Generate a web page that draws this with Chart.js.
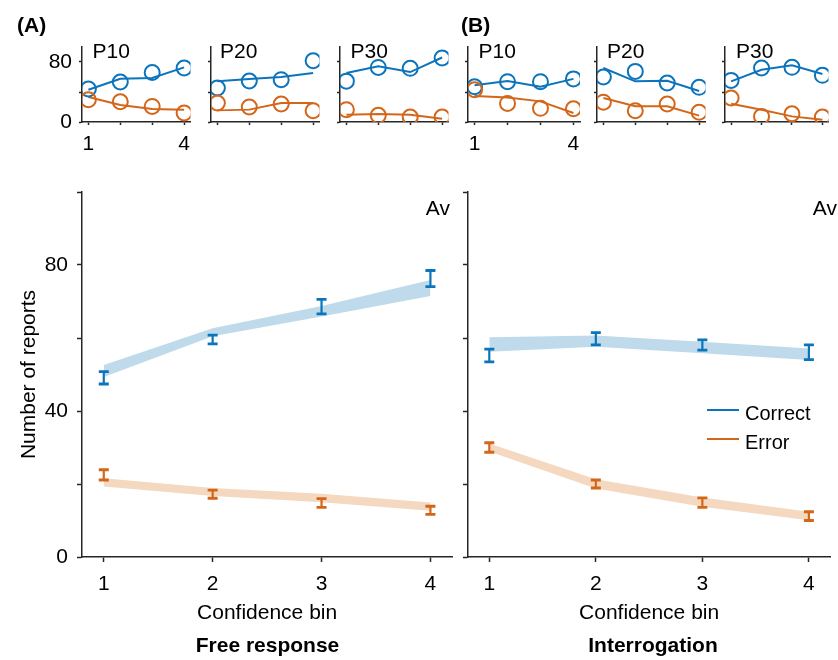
<!DOCTYPE html>
<html><head><meta charset="utf-8">
<script src="https://cdn.jsdelivr.net/npm/chart.js@4.4.1/dist/chart.umd.min.js"></script>
<style>
html,body{margin:0;padding:0;background:#fff;}
#root{position:relative;width:838px;height:660px;overflow:hidden;font-family:"Liberation Sans",Arial,sans-serif;color:#000;}
canvas{position:absolute;}
.lbl{position:absolute;white-space:nowrap;line-height:1;}
.leg{position:absolute;height:2px;}
</style></head><body><div id="root"></div>
<script>
// ---------- data ----------
const bins = [1, 2, 3, 4];
const yTickLabelsMain = [0, 40, 80];
const yTickLabelsSmall = [0, 80];
const xTickLabelsSmall = [1, 4];

// (A) Free response – averages
const freeCorrectMean = [49.1, 59.6, 68.6, 76.3];
const freeCorrectSem  = [1.7, 1.2, 2.0, 2.2];
const freeErrorMean   = [22.5, 17.2, 14.8, 12.8];
const freeErrorSem    = [1.4, 1.1, 1.2, 1.1];
const freeCorrectBandLow  = [49.3, 60.5, 65.9, 71.5];
const freeCorrectBandHigh = [52.6, 62.7, 68.8, 75.9];
const freeErrorBandLow    = [19.3, 16.7, 15.0, 12.7];
const freeErrorBandHigh   = [21.6, 18.9, 17.3, 14.9];

// (B) Interrogation – averages
const intCorrectMean = [55.2, 59.8, 58.1, 56.1];
const intCorrectSem  = [1.75, 1.7, 1.4, 2.0];
const intErrorMean   = [30.0, 20.0, 14.9, 11.2];
const intErrorSem    = [1.3, 1.1, 1.3, 1.2];
const intCorrectBandLow  = [56.2, 57.6, 55.8, 54.0];
const intCorrectBandHigh = [60.2, 60.7, 59.0, 57.1];
const intErrorBandLow    = [28.9, 18.8, 13.8, 10.1];
const intErrorBandHigh   = [31.1, 21.3, 16.3, 12.4];

// individual participants (circles = data, lines = model)
const freeP10CorrectData = [44, 53.3, 66, 72];
const freeP10CorrectFit  = [43, 57.7, 58.6, 72.9];
const freeP10ErrorData   = [29.7, 27, 20.8, 12];
const freeP10ErrorFit    = [33.3, 22.7, 17.3, 16.4];
const freeP20CorrectData = [45.3, 54.7, 56.4, 81.7];
const freeP20CorrectFit  = [54.2, 57.3, 60, 65.3];
const freeP20ErrorData   = [25.3, 20, 24, 15];
const freeP20ErrorFit    = [15.5, 16.5, 25.3, 25.3];
const freeP30CorrectData = [54.5, 72.8, 71.6, 85.3];
const freeP30CorrectFit  = [65.3, 74.2, 66.6, 86];
const freeP30ErrorData   = [16.4, 8.9, 6.7, 6.7];
const freeP30ErrorFit    = [9.7, 10.6, 9.7, 4.4];

const intP10CorrectData = [47, 53.8, 53.8, 57.5];
const intP10CorrectFit  = [49, 54.6, 47, 57.5];
const intP10ErrorData   = [43, 24.8, 18.2, 17.7];
const intP10ErrorFit    = [34.6, 32.7, 27.5, 12];
const intP20CorrectData = [60, 67.5, 52, 46.2];
const intP20CorrectFit  = [72, 54.2, 55, 41.3];
const intP20ErrorData   = [26.4, 15, 24, 13];
const intP20ErrorFit    = [32, 21, 21, 8.5];
const intP30CorrectData = [55.5, 72, 72.9, 62.2];
const intP30CorrectFit  = [54.2, 69.7, 75.5, 64];
const intP30ErrorData   = [32, 7.5, 11, 6.7];
const intP30ErrorFit    = [24.4, 16.4, 7.5, 3.1];

// ---------- styles ----------
const BLUE = '#0b74bc', ORANGE = '#d4661a';
const BLUE_BAND = '#bfdbeb', ORANGE_BAND = '#f4d8bf';
const AXIS = '#262626';
const FONT = '"Liberation Sans", Arial, sans-serif';
Chart.defaults.font.family = FONT;
Chart.defaults.color = '#000';

const root = document.getElementById('root');
const pts = arr => bins.map((x, i) => ({x, y: arr[i]}));
function errData(mean, sem) {
  const d = [];
  bins.forEach((x, i) => { d.push({x, y: mean[i] - sem[i]}, {x, y: mean[i] + sem[i]}, {x, y: null}); });
  return d;
}
const errDS = (mean, sem, c) => ({
  data: errData(mean, sem), borderColor: c, borderWidth: 2.2, spanGaps: false,
  pointStyle: 'line', pointRadius: ctx => (ctx.raw && ctx.raw.y !== null ? 5 : 0),
  pointBorderWidth: 2.8, pointBorderColor: c, pointBackgroundColor: c, fill: false, order: 0
});
const bandDS = (hi, lo, c) => [
  {data: pts(hi), fill: '+1', backgroundColor: c, borderColor: 'rgba(0,0,0,0)', borderWidth: 0, pointRadius: 0, order: 5},
  {data: pts(lo), fill: false, borderColor: 'rgba(0,0,0,0)', borderWidth: 0, pointRadius: 0, order: 5}
];
const circDS = (arr, c, order) => ({data: pts(arr), showLine: false, pointStyle: 'circle', pointRadius: 7.5,
  pointBorderWidth: 2, pointBorderColor: c, pointBackgroundColor: 'rgba(0,0,0,0)', borderColor: c, order});
const fitDS = (arr, c, order) => ({data: pts(arr), borderColor: c, borderWidth: 2, pointRadius: 0, tension: 0, fill: false, order});

function panel(rect, area, o) {
  const cv = document.createElement('canvas');
  cv.width = rect.w; cv.height = rect.h;
  Object.assign(cv.style, {left: rect.x + 'px', top: rect.y + 'px', width: rect.w + 'px', height: rect.h + 'px'});
  root.appendChild(cv);
  const yW = area.l - rect.x, xH = rect.y + rect.h - area.b;
  const padTop = area.t - rect.y, padRight = rect.x + rect.w - area.r;
  const fs = o.fs || 21;
  return new Chart(cv, {
    type: 'line',
    data: {datasets: o.datasets},
    options: {
      responsive: false, maintainAspectRatio: false, animation: false, devicePixelRatio: 1,
      layout: {padding: {top: padTop, right: padRight, left: 0, bottom: 0}},
      plugins: {legend: {display: false}, tooltip: {enabled: false}},
      scales: {
        x: {
          type: 'linear', min: 0.8, max: 4.2,
          afterFit: s => { s.height = xH; s.paddingLeft = 0; s.paddingRight = 0; },
          afterBuildTicks: s => { s.ticks = bins.map(v => ({value: v})); },
          grid: {drawOnChartArea: false, drawTicks: true, tickLength: o.tl, tickColor: AXIS, tickWidth: 1.5},
          border: {display: true, color: AXIS, width: 1.5},
          ticks: {autoSkip: false, maxRotation: 0, padding: o.xPad || 8, font: {size: fs}, color: '#000',
                  callback: v => (o.xLabels.includes(v) ? String(v) : '')},
          title: o.xTitle ? {display: true, text: o.xTitle, font: {size: fs}, color: '#000', padding: {top: 0, bottom: o.xTitlePad}} : {display: false}
        },
        y: {
          min: 0, max: 100,
          afterFit: s => { s.width = yW; s.paddingTop = 0; s.paddingBottom = 0; },
          grid: {drawOnChartArea: false, drawTicks: true, tickLength: o.tl, tickColor: AXIS, tickWidth: 1.5},
          border: {display: true, color: AXIS, width: 1.5},
          ticks: {stepSize: 20, padding: o.yPad || 8, font: {size: fs}, color: '#000',
                  callback: v => (o.yLabels.includes(v) ? String(v) : '')},
          title: o.yTitle ? {display: true, text: o.yTitle, font: {size: fs}, color: '#000', padding: {top: o.yTitlePad, bottom: 0}} : {display: false}
        }
      }
    }
  });
}

function mainSets(cm, cs, em, es, cHi, cLo, eHi, eLo) {
  return [errDS(cm, cs, BLUE), errDS(em, es, ORANGE), ...bandDS(cHi, cLo, BLUE_BAND), ...bandDS(eHi, eLo, ORANGE_BAND)];
}
function smallSets(cD, cF, eD, eF) {
  return [circDS(eD, ORANGE, 0), circDS(cD, BLUE, 1), fitDS(eF, ORANGE, 2), fitDS(cF, BLUE, 3)];
}

// ---------- main panels ----------
panel({x: 0, y: 180, w: 460, h: 480}, {l: 82, r: 453, t: 192, b: 557}, {
  tl: 5, xPad: 10, yPad: 9, xLabels: bins, yLabels: yTickLabelsMain,
  xTitle: 'Confidence bin', xTitlePad: 34, yTitle: 'Number of reports', yTitlePad: 17,
  datasets: mainSets(freeCorrectMean, freeCorrectSem, freeErrorMean, freeErrorSem,
                     freeCorrectBandHigh, freeCorrectBandLow, freeErrorBandHigh, freeErrorBandLow)
});
panel({x: 440, y: 180, w: 398, h: 480}, {l: 468, r: 838, t: 192, b: 557}, {
  tl: 5, xPad: 10, yPad: 9, xLabels: bins, yLabels: [],
  xTitle: 'Confidence bin', xTitlePad: 34,
  datasets: mainSets(intCorrectMean, intCorrectSem, intErrorMean, intErrorSem,
                     intCorrectBandHigh, intCorrectBandLow, intErrorBandHigh, intErrorBandLow)
});

// ---------- small panels ----------
const T = 47, B = 122, TOP = 30, H = 135;
panel({x: 0, y: TOP, w: 200, h: H}, {l: 82, r: 194, t: T, b: B}, {
  tl: 3, xPad: 7, yPad: 7, xLabels: xTickLabelsSmall, yLabels: yTickLabelsSmall,
  datasets: smallSets(freeP10CorrectData, freeP10CorrectFit, freeP10ErrorData, freeP10ErrorFit)
});
panel({x: 199, y: TOP, w: 130, h: H}, {l: 211, r: 322, t: T, b: B}, {
  tl: 3, xLabels: [], yLabels: [],
  datasets: smallSets(freeP20CorrectData, freeP20CorrectFit, freeP20ErrorData, freeP20ErrorFit)
});
panel({x: 328, y: TOP, w: 130, h: H}, {l: 340, r: 452, t: T, b: B}, {
  tl: 3, xLabels: [], yLabels: [],
  datasets: smallSets(freeP30CorrectData, freeP30CorrectFit, freeP30ErrorData, freeP30ErrorFit)
});
panel({x: 456, y: TOP, w: 135, h: H}, {l: 468, r: 580, t: T, b: B}, {
  tl: 3, xPad: 7, xLabels: xTickLabelsSmall, yLabels: [],
  datasets: smallSets(intP10CorrectData, intP10CorrectFit, intP10ErrorData, intP10ErrorFit)
});
panel({x: 585, y: TOP, w: 130, h: H}, {l: 597, r: 708, t: T, b: B}, {
  tl: 3, xLabels: [], yLabels: [],
  datasets: smallSets(intP20CorrectData, intP20CorrectFit, intP20ErrorData, intP20ErrorFit)
});
panel({x: 713, y: TOP, w: 125, h: H}, {l: 725, r: 837, t: T, b: B}, {
  tl: 3, xLabels: [], yLabels: [],
  datasets: smallSets(intP30CorrectData, intP30CorrectFit, intP30ErrorData, intP30ErrorFit)
});

// ---------- text ----------
function label(text, x, baseline, size, opts = {}) {
  const d = document.createElement('div');
  d.className = 'lbl'; d.textContent = text;
  d.style.fontSize = size + 'px';
  d.style.fontWeight = opts.bold ? 'bold' : 'normal';
  d.style.top = (baseline - 0.8465 * size) + 'px';
  if (opts.align === 'right') d.style.right = (838 - x) + 'px';
  else if (opts.align === 'center') { d.style.left = x + 'px'; d.style.transform = 'translateX(-50%)'; }
  else d.style.left = x + 'px';
  root.appendChild(d);
}
label('(A)', 17, 31.5, 21, {bold: true});
label('(B)', 461, 31.5, 21, {bold: true});
[['P10', 92.5], ['P20', 220], ['P30', 350.5], ['P10', 478.5], ['P20', 607], ['P30', 736]].forEach(([t, x]) => label(t, x, 58, 21));
label('Av', 450, 215, 21, {align: 'right'});
label('Av', 837, 215, 21, {align: 'right'});
label('Free response', 267.5, 652, 21, {bold: true, align: 'center'});
label('Interrogation', 653, 652, 21, {bold: true, align: 'center'});
label('Correct', 745, 420, 20);
label('Error', 745, 449, 20);
function legLine(y, c) { const d = document.createElement('div'); d.className = 'leg';
  Object.assign(d.style, {left: '707px', top: (y - 1) + 'px', width: '32px', background: c}); root.appendChild(d); }
legLine(410, BLUE); legLine(439, ORANGE);
</script></body></html>
